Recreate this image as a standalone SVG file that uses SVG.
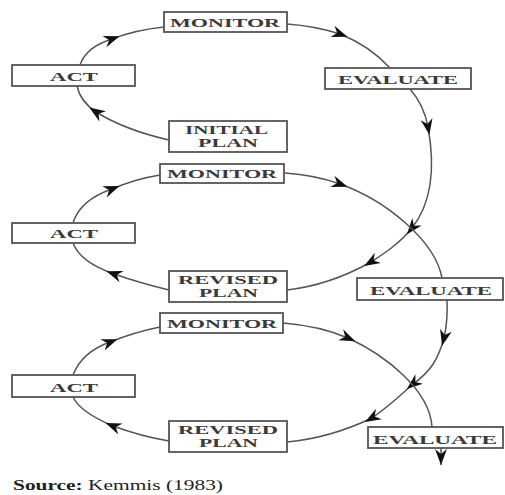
<svg xmlns="http://www.w3.org/2000/svg" width="505" height="495" viewBox="0 0 505 495">
<defs>
<style>
.box{fill:#fff;stroke:#555;stroke-width:1.8}
.lbl{font-family:"Liberation Serif","Times New Roman",serif;font-size:13px;font-weight:bold;fill:#3a3a3a}
.sm{font-size:11.5px}
.con{fill:none;stroke:#555;stroke-width:1.5}
.mid{marker-mid:url(#ah)}
</style>
<marker id="ah" markerUnits="userSpaceOnUse" markerWidth="20" markerHeight="20" refX="0" refY="0" viewBox="-10 -10 20 20" orient="auto" overflow="visible">
<path d="M-8,-6 L8,0 L-8,6 L-3,0 Z" fill="#111"/>
</marker>
<marker id="ahEnd" markerUnits="userSpaceOnUse" markerWidth="20" markerHeight="20" refX="8" refY="0" viewBox="-10 -10 20 20" orient="auto" overflow="visible">
<path d="M-8,-6 L8,0 L-8,6 L-3,0 Z" fill="#111"/>
</marker>
</defs>
<rect width="505" height="495" fill="#fff"/>
<g id="connectors">
<path class="con mid" d="M80,65 Q86,47 112,39 Q135,30 164,27"/>
<path class="con mid" d="M287,24 Q315,26 340,34 Q370,46 390,68"/>
<path class="con mid" d="M169,140 Q125,130 96,112 Q80,101 77,86"/>
<path class="con mid" d="M410,89 Q424,105 428,127 C434,160 434,200 412,228 C400,243 385,253 371,262 Q330,285 287,290"/>
<path class="con mid" d="M73,223 Q80,200 112,189 Q135,179 160,175"/>
<path class="con mid" d="M285,173 Q315,175 340,184 C385,200 435,240 442,278"/>
<path class="con mid" d="M169,290 Q140,283 114,274 Q80,262 73,243"/>
<path class="con mid" d="M447,300 Q448,320 444,338 C438,360 430,372 413,384 C400,396 388,407 372,418 Q330,438 287,442"/>
<path class="con mid" d="M73,375 Q82,352 110,342 Q135,332 160,327"/>
<path class="con mid" d="M283,323 Q320,326 348,338 C385,355 430,390 432,427"/>
<path class="con mid" d="M169,441 Q140,436 113,426 Q80,412 73,397"/>
<path class="con" d="M441,448 L441,465" marker-end="url(#ahEnd)"/>
</g>
<g id="monitor1"><rect class="box" x="164" y="12" width="123" height="20"/><text class="lbl" x="170" y="27" textLength="110" lengthAdjust="spacingAndGlyphs">MONITOR</text></g>
<g id="act1"><rect class="box" x="12" y="65" width="123" height="21"/><text class="lbl" x="50" y="81" textLength="48" lengthAdjust="spacingAndGlyphs">ACT</text></g>
<g id="evaluate1"><rect class="box" x="325" y="68" width="146" height="21"/><text class="lbl" x="338" y="84" textLength="120" lengthAdjust="spacingAndGlyphs">EVALUATE</text></g>
<g id="initialplan"><rect class="box" x="169" y="121" width="118" height="31"/><text class="lbl sm" x="185" y="134" textLength="83" lengthAdjust="spacingAndGlyphs">INITIAL</text><text class="lbl sm" x="198" y="147" textLength="60" lengthAdjust="spacingAndGlyphs">PLAN</text></g>
<g id="monitor2"><rect class="box" x="160" y="164" width="124" height="19"/><text class="lbl" x="167" y="178" textLength="110" lengthAdjust="spacingAndGlyphs">MONITOR</text></g>
<g id="act2"><rect class="box" x="12" y="223" width="123" height="20"/><text class="lbl" x="50" y="238" textLength="48" lengthAdjust="spacingAndGlyphs">ACT</text></g>
<g id="revisedplan1"><rect class="box" x="169" y="271" width="118" height="31"/><text class="lbl sm" x="178" y="284" textLength="100" lengthAdjust="spacingAndGlyphs">REVISED</text><text class="lbl sm" x="199" y="297" textLength="59" lengthAdjust="spacingAndGlyphs">PLAN</text></g>
<g id="evaluate2"><rect class="box" x="357" y="278" width="146" height="22"/><text class="lbl" x="370" y="295" textLength="122" lengthAdjust="spacingAndGlyphs">EVALUATE</text></g>
<g id="monitor3"><rect class="box" x="160" y="313" width="123" height="20"/><text class="lbl" x="167" y="328" textLength="110" lengthAdjust="spacingAndGlyphs">MONITOR</text></g>
<g id="act3"><rect class="box" x="12" y="375" width="123" height="22"/><text class="lbl" x="50" y="392" textLength="48" lengthAdjust="spacingAndGlyphs">ACT</text></g>
<g id="revisedplan2"><rect class="box" x="169" y="421" width="118" height="31"/><text class="lbl sm" x="178" y="434" textLength="100" lengthAdjust="spacingAndGlyphs">REVISED</text><text class="lbl sm" x="199" y="447" textLength="59" lengthAdjust="spacingAndGlyphs">PLAN</text></g>
<g id="evaluate3"><rect class="box" x="368" y="427" width="135" height="21"/><text class="lbl" x="373" y="444" textLength="124" lengthAdjust="spacingAndGlyphs">EVALUATE</text></g>
<g id="source"><text x="13" y="490" font-family="'Liberation Serif','Times New Roman',serif" font-size="15" fill="#222" textLength="210" lengthAdjust="spacingAndGlyphs"><tspan font-weight="bold">Source:</tspan> Kemmis (1983)</text></g>
</svg>
